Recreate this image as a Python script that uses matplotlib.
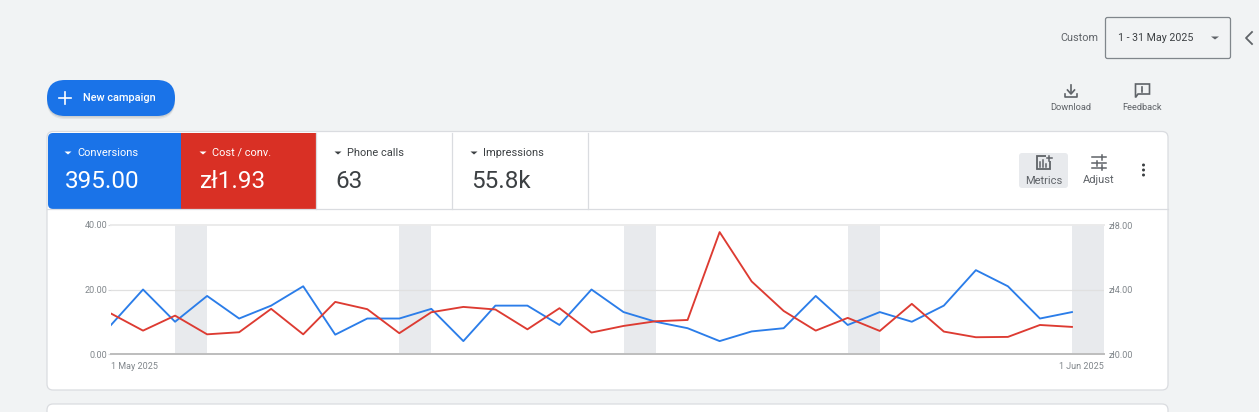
import matplotlib
matplotlib.use('Agg')
import matplotlib.pyplot as plt
import pandas as pd
from matplotlib.patches import FancyBboxPatch, Rectangle, Polygon, Circle

plt.rcParams['font.family'] = ['Roboto', 'DejaVu Sans']

# --- data ---
conversions = [9, 20, 10, 18, 11, 15, 21, 6, 11, 11, 14, 4, 15, 15, 9, 20,
               13, 10, 8, 4, 7, 8, 18, 9, 13, 10, 15, 26, 21, 11, 13]
cost_per_conv = [2.51, 1.45, 2.38, 1.22, 1.35, 2.80, 1.22, 3.23, 2.78, 1.29, 2.59,
                 2.92, 2.76, 1.53, 2.84, 1.33, 1.74, 2.03, 2.11, 7.56, 4.50, 2.67,
                 1.45, 2.24, 1.43, 3.11, 1.39, 1.04, 1.06, 1.80, 1.68]
weekend_starts = ['2025-05-03', '2025-05-10', '2025-05-17', '2025-05-24', '2025-05-31']
left_ticks = [0, 20, 40]
left_labels = ['0.00', '20.00', '40.00']
right_ticks = [0, 4, 8]
right_labels = ['zł0.00', 'zł4.00', 'zł8.00']
date_ticks = ['2025-05-01', '2025-06-01']
date_labels = ['1 May 2025', '1 Jun 2025']
tile_names = ['Conversions', 'Cost / conv.', 'Phone calls', 'Impressions']
tile_values = ['395.00', 'zł1.93', '63', '55.8k']

BG = '#f1f3f4'
BLUE = '#1a73e8'
RED = '#d93025'
BORDER = '#dadce0'
DARK = '#3c4043'
GREY = '#5f6368'
AXIS_GREY = '#80868b'

W, H = 1259, 412
fig = plt.figure(figsize=(W / 100, H / 100), dpi=100, facecolor=BG)

# page furniture is drawn on a full-size axes in pixel coordinates
ui = fig.add_axes([0, 0, 1, 1])
ui.set_xlim(0, W)
ui.set_ylim(H, 0)
ui.axis('off')


def rbox(x0, y0, x1, y1, r, fc, ec='none', lw=0, z=1, alpha=None):
    p = FancyBboxPatch((x0 + r, y0 + r), x1 - x0 - 2 * r, y1 - y0 - 2 * r,
                       boxstyle=f'round,pad={r},rounding_size={r}',
                       fc=fc, ec=ec, lw=lw, zorder=z, alpha=alpha)
    ui.add_patch(p)


def label(x, y, s, size, color=GREY, ha='left', weight='normal'):
    ui.text(x, y, s, fontsize=size, color=color, ha=ha, va='center',
            fontweight=weight, zorder=6)


def caret(x, y, color, w=3.5, h=3):
    ui.add_patch(Polygon([(x - w, y - h / 2), (x + w, y - h / 2), (x, y + h / 2)],
                         fc=color, ec='none', zorder=6))


# cards
rbox(47, 131.5, 1168, 390, 6, 'white', BORDER, 0.9, z=1)
rbox(47, 404, 1168, 440, 6, 'white', BORDER, 0.9, z=1)

# metric tiles
rbox(48, 133, 70, 209, 5, BLUE, z=2)
ui.add_patch(Rectangle((56, 133), 125, 76, fc=BLUE, ec='none', zorder=2))
ui.add_patch(Rectangle((181, 133), 135, 76, fc=RED, ec='none', zorder=2))
ui.plot([47.5, 1168], [209, 209], color=BORDER, lw=0.9, zorder=3)
for x in [316.5, 452.5, 588.5]:
    ui.plot([x, x], [132.5, 209], color=BORDER, lw=0.9, zorder=3)

tile_x = [65, 200, 335, 471]
tile_fg = ['white', 'white', DARK, DARK]
for x, name, value, fg in zip(tile_x, tile_names, tile_values, tile_fg):
    caret(x + 3, 153, fg)
    label(x + 12, 152.5, name, 7.9, fg)
    label(x, 181, value, 17.5, fg)

# custom date picker
label(1098, 38, 'Custom', 7.8, GREY, ha='right')
rbox(1105.5, 17.5, 1230.5, 58.5, 2, BG, AXIS_GREY, 0.9, z=2)
label(1118, 38, '1 - 31 May 2025', 7.7, DARK)
caret(1215, 38, GREY, 4, 3)
ui.plot([1252, 1246, 1252], [32, 38, 44], color=GREY, lw=1.3, zorder=5)

# new campaign button, soft shadow underneath
rbox(47, 83, 175, 119, 18, '#9aa0a6', z=1, alpha=0.18)
rbox(47, 81.5, 175, 117.5, 18, '#9aa0a6', z=1, alpha=0.3)
rbox(47, 80, 175, 116, 18, BLUE, z=2)
ui.plot([59, 71], [97.5, 97.5], color='white', lw=1.2, zorder=6)
ui.plot([65, 65], [91.5, 103.5], color='white', lw=1.2, zorder=6)
label(83, 97.5, 'New campaign', 7.8, 'white', weight='medium')

# download icon
ui.plot([1071, 1071], [85, 93], color=GREY, lw=1.2, zorder=5)
ui.plot([1067.5, 1071, 1074.5], [90, 94, 90], color=GREY, lw=1.2, zorder=5)
ui.plot([1065, 1065, 1077, 1077], [94, 97, 97, 94], color=GREY, lw=1.2, zorder=5)
label(1071, 107, 'Download', 6.7, GREY, ha='center')

# feedback icon
ui.add_patch(Polygon([(1135.5, 84), (1149.5, 84), (1149.5, 94), (1138, 94), (1135.5, 97.5)],
                     fc='none', ec=GREY, lw=1.2, zorder=5))
ui.plot([1142.5, 1142.5], [86.8, 89.5], color=GREY, lw=1.2, zorder=5)
ui.plot([1142.5, 1142.5], [90.9, 92.2], color=GREY, lw=1.2, zorder=5)
label(1142, 107, 'Feedback', 6.7, GREY, ha='center')

# metrics / adjust / more
rbox(1019, 153, 1068, 188, 3, '#e8eaed', z=2)
ui.add_patch(Rectangle((1037, 156), 13, 12.5, fc='none', ec=GREY, lw=1.3, zorder=5))
for x, top in zip([1040.5, 1043.5, 1046.5], [162, 159.5, 164]):
    ui.plot([x, x], [top, 166.5], color=GREY, lw=1.1, zorder=6)
ui.add_patch(Rectangle((1046, 153.5), 7, 7, fc='#e8eaed', ec='none', zorder=5.5))
ui.plot([1047, 1052], [158, 158], color=GREY, lw=1.1, zorder=6)
ui.plot([1049.5, 1049.5], [155.5, 160.5], color=GREY, lw=1.1, zorder=6)
label(1043.5, 180.5, 'Metrics', 8, GREY, ha='center')

for y, a in [(157, 1101), (163, 1096), (167.5, 1101)]:
    ui.plot([1092, 1106], [y, y], color=GREY, lw=1.1, zorder=5)
    ui.plot([a + 1, a + 1], [y - 2.5, y + 2.5], color=GREY, lw=1.1, zorder=5)
label(1098.5, 179.5, 'Adjust', 8, GREY, ha='center')

for y in [165, 170, 175]:
    ui.add_patch(Circle((1143.5, y), 1.5, fc=DARK, ec='none', zorder=5))

# --- the chart itself ---
dates = pd.date_range('2025-05-01', periods=len(conversions), freq='D')
x0, x1, y_top, y_bot = 111, 1104, 225, 354
ax = fig.add_axes([x0 / W, 1 - y_bot / H, (x1 - x0) / W, (y_bot - y_top) / H])
ax2 = ax.twinx()
ax.set_zorder(2)
ax2.set_zorder(3)
ax.patch.set_alpha(0)
ax2.patch.set_alpha(0)

for start in weekend_starts:
    s = pd.Timestamp(start)
    ax.axvspan(s, s + pd.Timedelta(days=1), color='#e8eaed', lw=0, zorder=1)

ax.set_xlim(pd.Timestamp('2025-05-01'), pd.Timestamp('2025-06-01'))
ax.set_ylim(0, 40)
ax2.set_ylim(0, 8)

ax.set_yticks(left_ticks, left_labels)
ax2.set_yticks(right_ticks, right_labels)
ax.set_xticks([pd.Timestamp(d) for d in date_ticks], date_labels)
tick_labels = ax.get_xticklabels()
tick_labels[0].set_ha('left')
tick_labels[1].set_ha('right')

ax.tick_params(axis='y', length=2.2, width=0.8, color='#d5d7da', labelsize=6.5,
               labelcolor=AXIS_GREY, pad=0.5)
ax2.tick_params(axis='y', length=0, labelsize=6.5, labelcolor=AXIS_GREY, pad=3)
ax.tick_params(axis='x', length=0, labelsize=6.5, labelcolor=AXIS_GREY, pad=5.5)
ax2.tick_params(axis='x', length=0)

for a in (ax, ax2):
    for name in ['top', 'left', 'right']:
        a.spines[name].set_visible(False)
ax.spines['bottom'].set_color('#bdbdbd')
ax.spines['bottom'].set_linewidth(1.4)
ax2.spines['bottom'].set_visible(False)

ax.axhline(20, color='#e0e0e0', lw=0.9, zorder=2)
ax.axhline(40, color='#ebebeb', lw=1.4, zorder=2, clip_on=False)

ax.plot(dates, conversions, color='#2b7de9', lw=1.35, zorder=4)
ax2.plot(dates, cost_per_conv, color='#dd3b32', lw=1.35, zorder=5)

fig.savefig('out.png', dpi=100, facecolor=BG)
